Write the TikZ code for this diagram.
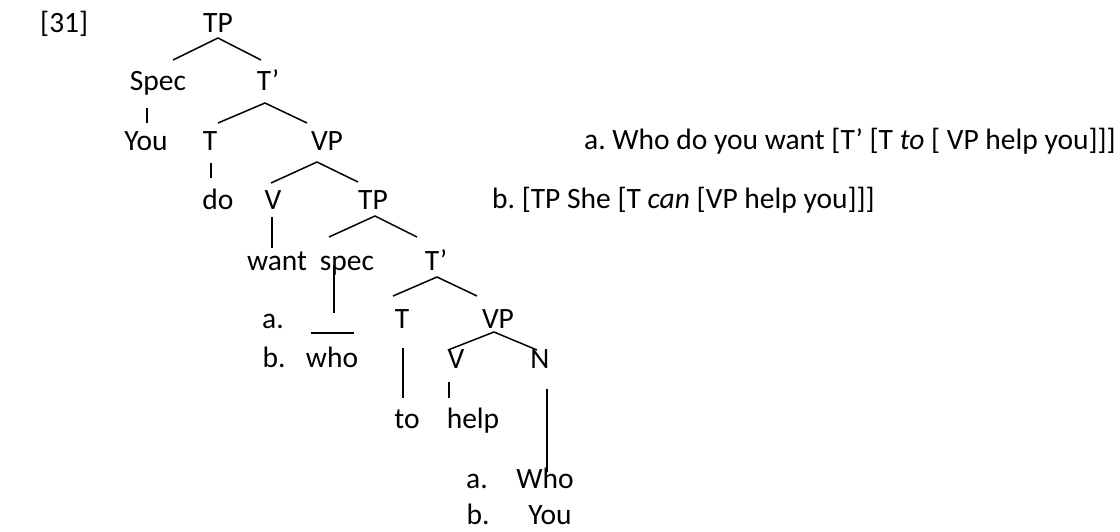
\documentclass[tikz,border=0pt]{standalone}
\usepackage{fontspec}
\setmainfont{Carlito}
\frenchspacing
\begin{document}
\begin{tikzpicture}[x=1pt,y=-1pt,
  lbl/.style={anchor=base,inner sep=0pt,font=\fontsize{29.5}{34}\selectfont},
  lblw/.style={anchor=base west,inner sep=0pt,font=\fontsize{29.5}{34}\selectfont},
  br/.style={line width=1.5pt}]
\useasboundingbox (0,0) rectangle (1120,531);
% labels
\node[lblw] (n31) at (40,32) {[31]};
\node[lbl] (tp1) at (218,32) {TP};
\node[lbl] (spec1) at (158,90) {Spec};
\node[lbl] (tb1) at (268,90) {T’};
\node[lbl] (you1) at (146,150) {You};
\node[lbl] (t1) at (210,150) {T};
\node[lbl] (vp1) at (327,150) {VP};
\node[lbl] (do) at (218,209) {do};
\node[lbl] (v1) at (273,209) {V};
\node[lbl] (tp2) at (373,209) {TP};
\node[lbl] (want) at (277,270) {want};
\node[lbl] (spec2) at (347,270) {spec};
\node[lbl] (tb2) at (436,270) {T’};
\node[lbl] (la) at (273,328) {a.};
\node[lbl] (t3) at (402,328) {T};
\node[lbl] (vp3) at (498,328) {VP};
\node[lbl] (lb) at (274,367) {b.};
\node[lbl] (who1) at (332,367) {who};
\node[lbl] (v3) at (456,368) {V};
\node[lbl] (n3) at (540,368) {N};
\node[lbl] (to) at (407,428) {to};
\node[lbl] (help) at (473,428) {help};
\node[lbl] (ba) at (477,488) {a.};
\node[lbl] (who2) at (545,488) {Who};
\node[lbl,text depth=0pt] (bb) at (478,524) {b.};
\node[lbl,text depth=0pt] (you2) at (550,524) {You};
\node[lblw] (exa) at (584,149) {a. Who do you want [T’ [T \textit{to} [ VP help you]]]};
\node[lblw] (exb) at (492,208) {b. [TP She [T \textit{can} [VP help you]]]};
% branch points
\coordinate (p1) at (218,38); \coordinate (p1l) at (173,60); \coordinate (p1r) at (261,60);
\coordinate (p2) at (265,103); \coordinate (p2l) at (218,123); \coordinate (p2r) at (307,123);
\coordinate (s1a) at (147,108); \coordinate (s1b) at (147,123);
\coordinate (t1a) at (211,163); \coordinate (t1b) at (211,178);
\coordinate (p3) at (317,162); \coordinate (p3l) at (271,183); \coordinate (p3r) at (358,182);
\coordinate (v1a) at (272,217); \coordinate (v1b) at (272,248);
\coordinate (p4) at (375,216); \coordinate (p4l) at (329,237); \coordinate (p4r) at (417,237);
\coordinate (s2a) at (334,265); \coordinate (s2b) at (334,313);
\coordinate (p5) at (437,277); \coordinate (p5l) at (393,296); \coordinate (p5r) at (477,296);
\coordinate (u1) at (311,333); \coordinate (u2) at (354,333);
\coordinate (p6) at (494,332); \coordinate (p6l) at (448,350); \coordinate (p6r) at (537,350);
\coordinate (t3a) at (403,348); \coordinate (t3b) at (403,398);
\coordinate (v3a) at (449,382); \coordinate (v3b) at (449,398);
\coordinate (n3a) at (547,389); \coordinate (n3b) at (547,472);
% connectors
\draw[br] (p1l) -- (p1) -- (p1r);
\draw[br] (p2l) -- (p2) -- (p2r);
\draw[br] (s1a) -- (s1b);
\draw[br] (t1a) -- (t1b);
\draw[br] (p3l) -- (p3) -- (p3r);
\draw[br] (v1a) -- (v1b);
\draw[br] (p4l) -- (p4) -- (p4r);
\draw[br] (s2a) -- (s2b);
\draw[br] (p5l) -- (p5) -- (p5r);
\draw[br] (u1) -- (u2);
\draw[br] (p6l) -- (p6) -- (p6r);
\draw[br] (t3a) -- (t3b);
\draw[br] (v3a) -- (v3b);
\draw[br] (n3a) -- (n3b);
\end{tikzpicture}
\end{document}
